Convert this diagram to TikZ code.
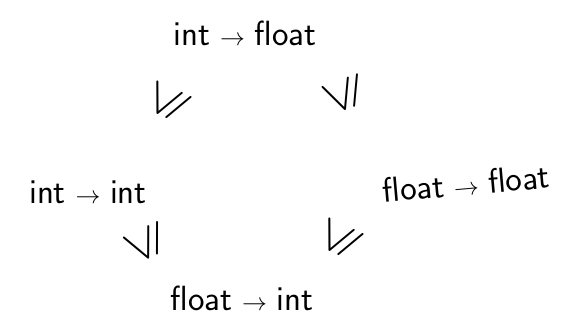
\documentclass[tikz,border=0pt]{standalone}
\usepackage{amssymb}
\usepackage{graphicx}
\usetikzlibrary{positioning}

\newcommand{\fnarrow}{\;$\rightarrow$\;}

\begin{document}
\begin{tikzpicture}[
    x=1pt, y=-1pt,
    typenode/.style={inner sep=1pt, font=\fontsize{35}{38}\selectfont\sffamily},
    relnode/.style={inner sep=0pt, font=\fontsize{50}{54}\selectfont}
]
\useasboundingbox (0,0) rectangle (580,332);

% Function types
\node[typenode] (intfloat) at (245,33) {int\fnarrow float};
\node[typenode] (intint) at (88,192) {int\fnarrow int};
\node[typenode, rotate=5] (floatfloat) at (466,183) {float\fnarrow float};
\node[typenode] (floatint) at (242,298) {float\fnarrow int};

% Subtyping relations
\node[relnode, rotate=65] (reltl) at (168,103) {$\leqslant$};
\node[relnode, rotate=110] (reltr) at (345,95) {$\leqslant$};
\node[relnode, rotate=115] (relbl) at (147,243) {$\leqslant$};
\node[relnode, rotate=65] (relbr) at (340,240) {$\leqslant$};

\end{tikzpicture}
\end{document}
